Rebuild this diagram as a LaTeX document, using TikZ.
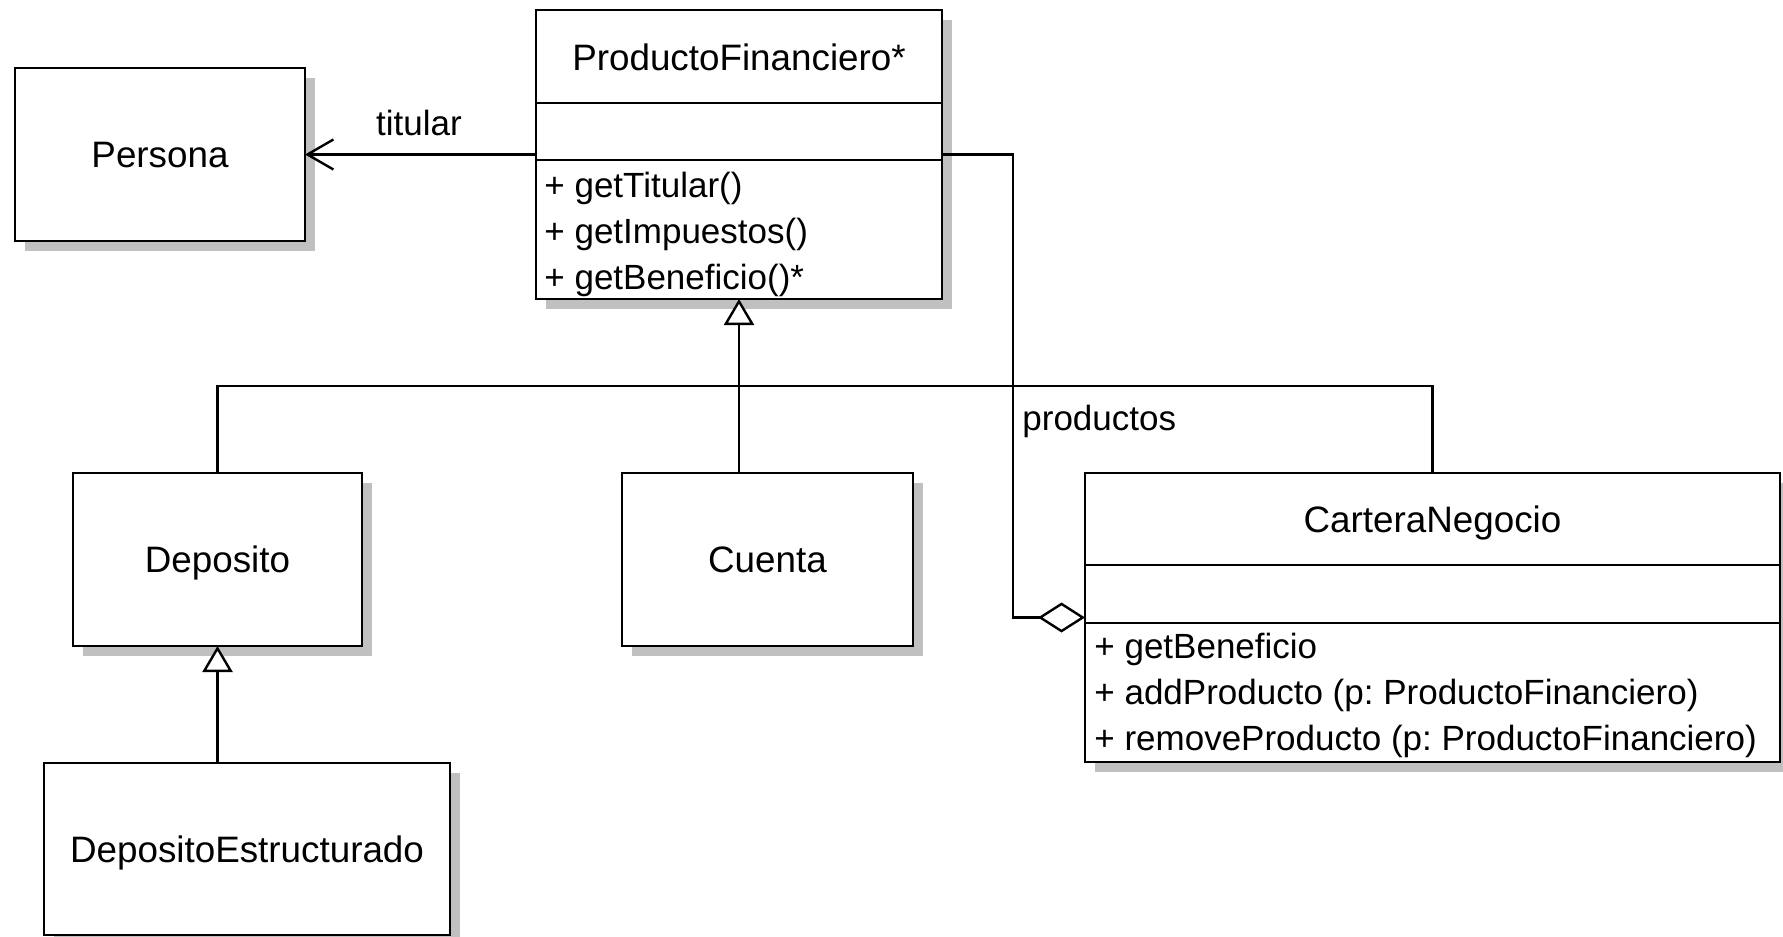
\documentclass[tikz,border=0pt]{standalone}
\usepackage{fontspec}
\setmainfont{Liberation Sans}
\usetikzlibrary{arrows.meta,shadows}
\definecolor{shadowgray}{RGB}{192,192,192}
\frenchspacing
\begin{document}
\begin{tikzpicture}[x=0.5pt,y=-0.5pt,
  cls/.style={draw=black, line width=1.3pt, fill=white, inner sep=0pt, outer sep=0pt,
    drop shadow={shadow xshift=5pt, shadow yshift=-5pt, opacity=1, fill=shadowgray}},
  ttl/.style={font=\fontsize{18.4}{22}\selectfont, inner sep=0pt},
  mth/.style={font=\fontsize{17.5}{21}\selectfont, inner sep=0pt, anchor=base west},
  lbl/.style={font=\fontsize{17.5}{21}\selectfont, inner sep=0pt},
  conn/.style={line width=1.2pt},
  gen/.style={conn, -{Triangle[length=13pt, width=15pt, fill=white]}},
  assoc/.style={conn, -{Straight Barb[length=13pt, width=15pt]}},
  agg/.style={conn, -{Diamond[length=23.5pt, width=15pt, fill=white]}}]
\useasboundingbox (0,0) rectangle (1783,937);
\fill[white] (0,0) rectangle (1783,937);

% simple classes
\node[cls, ttl, minimum width=145pt, minimum height=86.5pt, text height=13.2pt, text depth=0pt] (persona) at (160,154.5) {Persona};
\node[cls, ttl, minimum width=144.5pt, minimum height=86.5pt, text height=13.2pt, text depth=0pt] (dep) at (217.5,559.5) {Deposito};
\node[cls, ttl, minimum width=145.5pt, minimum height=86.5pt, text height=13.2pt, text depth=0pt] (cuenta) at (767.5,559.5) {Cuenta};
\node[cls, ttl, minimum width=203pt, minimum height=86pt, text height=13.2pt, text depth=0pt] (de) at (247,849) {DepositoEstructurado};

% ProductoFinanciero
\node[cls, minimum width=203pt, minimum height=144.5pt] (pf) at (739,154.5) {};
\draw[conn, line width=1.3pt] (pf.north west) ++(0,93) -- ++(406,0);
\draw[conn, line width=1.3pt] (pf.north west) ++(0,150) -- ++(406,0);
\node[ttl, anchor=base] (pfT) at (739,70) {ProductoFinanciero*};
\node[mth] (pfM1) at (544,197) {+ getTitular()};
\node[mth] (pfM2) at (544,243) {+ getImpuestos()};
\node[mth] (pfM3) at (544,289) {+ getBeneficio()*};

% CarteraNegocio
\node[cls, minimum width=347.5pt, minimum height=144.5pt] (cn) at (1432.5,617.5) {};
\draw[conn, line width=1.3pt] (cn.north west) ++(0,92) -- ++(695,0);
\draw[conn, line width=1.3pt] (cn.north west) ++(0,150) -- ++(695,0);
\node[ttl, anchor=base] (cnT) at (1432.5,532) {CarteraNegocio};
\node[mth] (cnM1) at (1094,658) {+ getBeneficio};
\node[mth] (cnM2) at (1094,704) {+ addProducto (p: ProductoFinanciero)};
\node[mth] (cnM3) at (1094,750) {+ removeProducto (p: ProductoFinanciero)};

% connectors
\coordinate (bus) at (739,386);
\coordinate (aggx) at (1013,386);
\draw[assoc] (pf.west) -- (persona.east);
\node[lbl, anchor=base] (titularL) at (419,135) {titular};
\draw[gen] (cuenta.north -| pf.south) -- (pf.south);
\draw[conn] (dep.north) |- (bus) -| (cn.north);
\draw[gen] (de.north -| dep.south) -- (dep.south);
\draw[agg] (pf.east) -| (aggx) |- (cn.west);
\node[lbl, anchor=base west] (productosL) at (1022,430) {productos};
\end{tikzpicture}
\end{document}
